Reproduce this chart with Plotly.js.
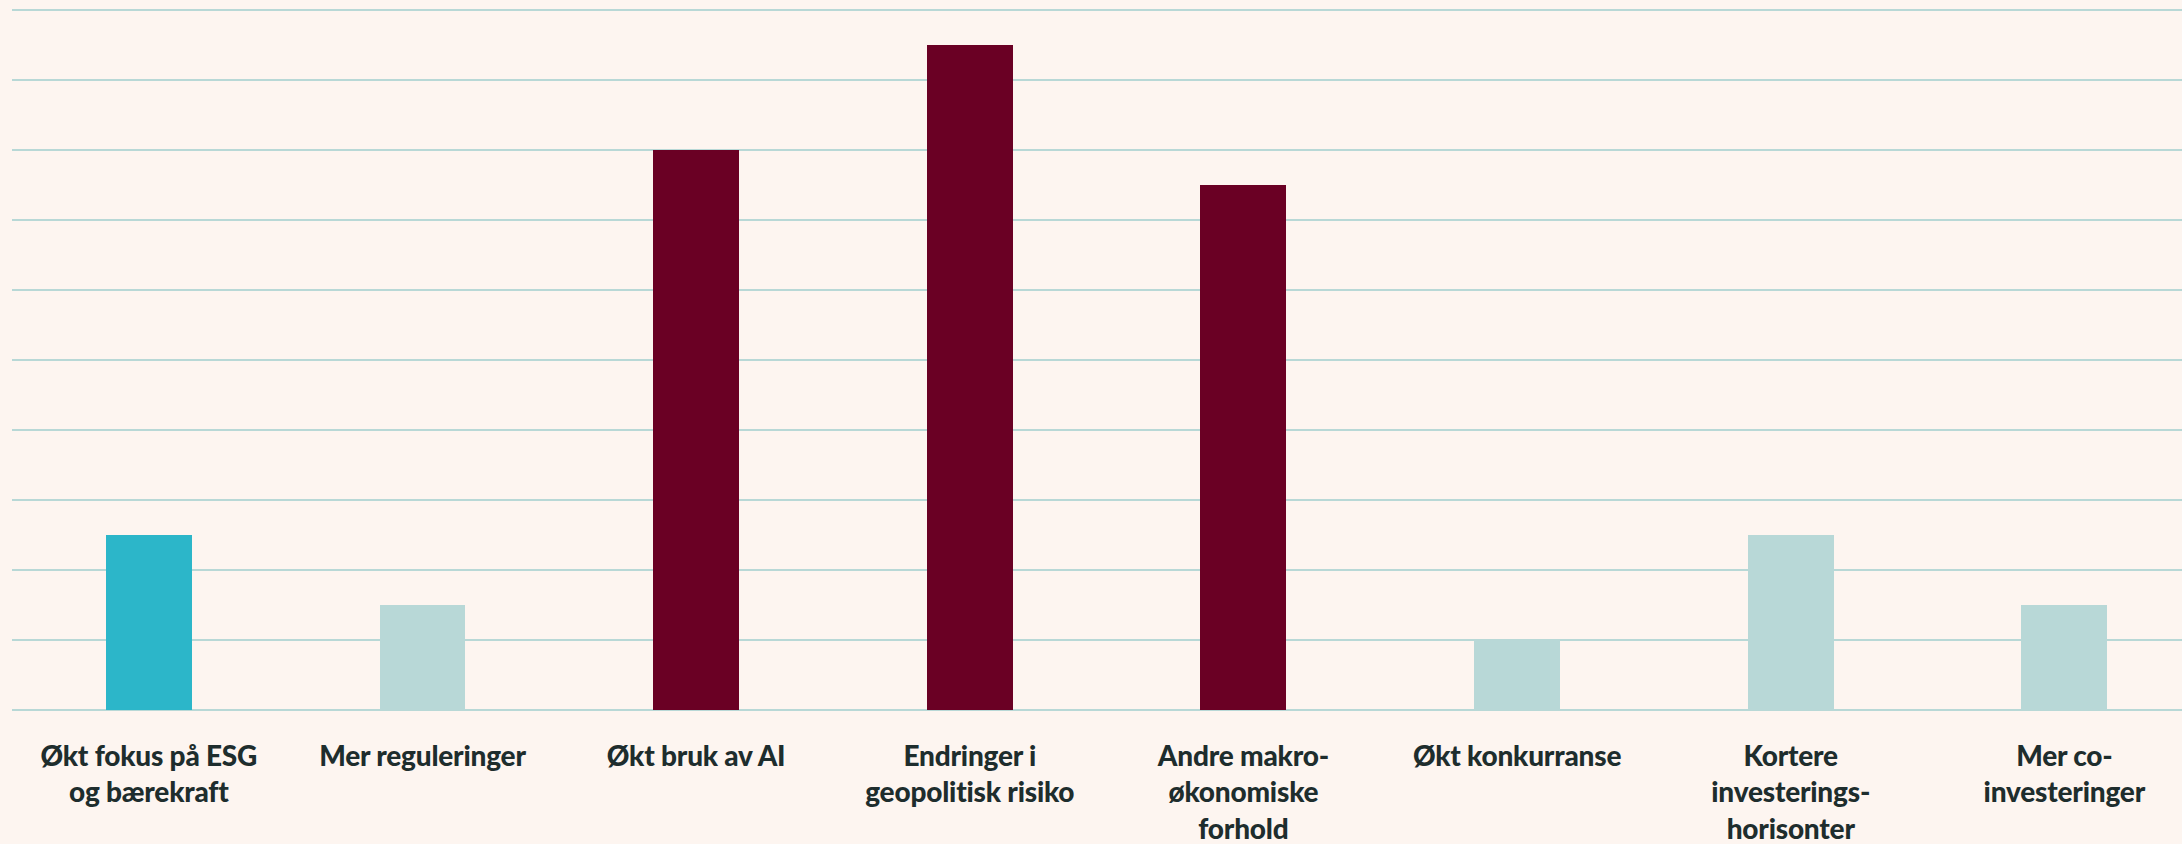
<!DOCTYPE html>
<html>
<head>
<meta charset="utf-8">
<script src="https://cdn.plot.ly/plotly-3.0.1.min.js"></script>
<style>
html,body{margin:0;padding:0;background:#fdf5f0;}
#chart{width:2182px;height:844px;}
.xtick text{letter-spacing:-0.2px;}
</style>
</head>
<body>
<div id="chart"></div>
<script>
const categories = [
  "Økt fokus på ESG<br>og bærekraft",
  "Mer reguleringer",
  "Økt bruk av AI",
  "Endringer i<br>geopolitisk risiko",
  "Andre makro-<br>økonomiske<br>forhold",
  "Økt konkurranse",
  "Kortere<br>investerings-<br>horisonter",
  "Mer co-<br>investeringer"
];
const values = [2.5, 1.5, 8, 9.5, 7.5, 1, 2.5, 1.5];
const barColors = ["#2cb6c9", "#b8d8d7", "#6a0024", "#6a0024", "#6a0024", "#b8d8d7", "#b8d8d7", "#b8d8d7"];

const trace = {
  type: "bar",
  x: categories.map((c, i) => i),
  y: values,
  marker: {color: barColors, line: {width: 0}},
  width: 0.314,
  hoverinfo: "none"
};

const layout = {
  width: 2182,
  height: 844,
  paper_bgcolor: "#fdf5f0",
  plot_bgcolor: "#fdf5f0",
  margin: {l: 12, r: 0, t: 9, b: 134},
  showlegend: false,
  bargap: 0,
  xaxis: {
    range: [-0.5, 7.43],
    tickmode: "array",
    tickvals: categories.map((c, i) => i),
    ticktext: categories,
    showgrid: false,
    zeroline: false,
    showline: false,
    ticks: "",
    ticklabelstandoff: 27,
    tickfont: {family: "Lato, 'Open Sans', sans-serif", size: 28, color: "#1e2d2d", weight: 900}
  },
  yaxis: {
    range: [0, 10.015],
    dtick: 1,
    showticklabels: false,
    showgrid: true,
    gridcolor: "#b8d8d6",
    gridwidth: 2,
    zeroline: true,
    zerolinecolor: "#b8d8d6",
    zerolinewidth: 2,
    showline: false,
    ticks: ""
  }
};

Plotly.newPlot("chart", [trace], layout, {displayModeBar: false, staticPlot: true});
</script>
</body>
</html>
